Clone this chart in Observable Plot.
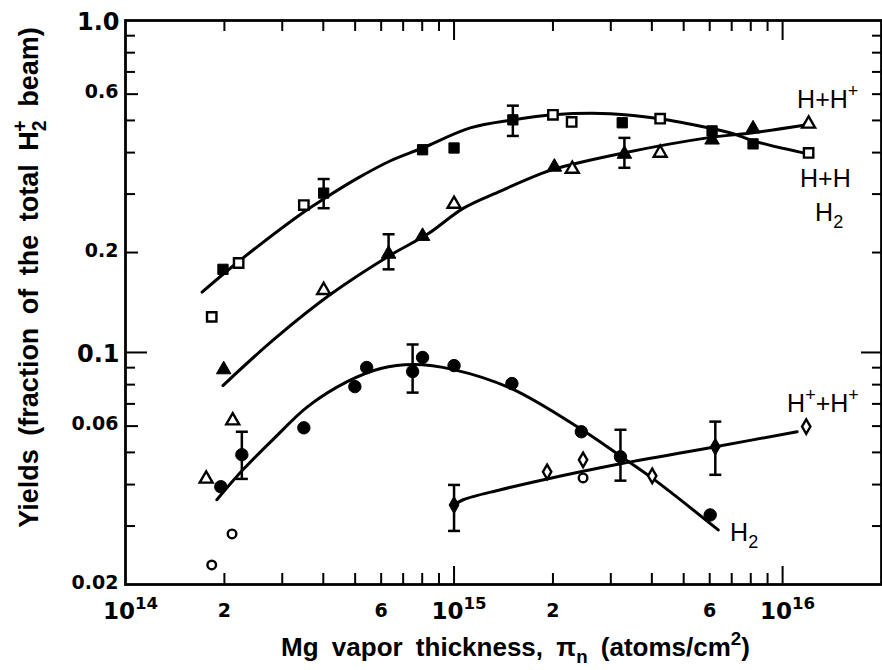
<!DOCTYPE html>
<html><head><meta charset="utf-8">
<script src="https://cdn.jsdelivr.net/npm/d3@7"></script>
<script src="https://cdn.jsdelivr.net/npm/@observablehq/plot@0.6"></script>
<style>body{margin:0;background:#fff}</style>
</head><body><div id="chart"></div>
<script>
// ---------- data (x: Mg thickness atoms/cm2, y: yield fraction) ----------
// H + H (squares)
const hhFilled = [[1.98e14,0.178],[4.01e14,0.302],[8.02e14,0.408],[1.0e15,0.413],[1.51e15,0.502],[3.25e15,0.492],[6.1e15,0.465],[8.13e15,0.425]];
const hhOpen = [[1.83e14,0.128],[2.21e14,0.186],[3.49e14,0.278],[2.0e15,0.52],[2.28e15,0.495],[4.24e15,0.506],[1.2e16,0.399]];
const hhErr = [[4.01e14,0.272,0.333],[1.51e15,0.449,0.554]];
const hhCurve = [[1.71e14,0.152],[2.21e14,0.188],[3.49e14,0.265],[4.01e14,0.29],[5.09e14,0.335],[6.41e14,0.378],[8.02e14,0.413],[1.12e15,0.475],[1.51e15,0.502],[2.0e15,0.52],[2.99e15,0.524],[4.24e15,0.506],[5.94e15,0.475],[7.07e15,0.456],[8.13e15,0.434],[1.2e16,0.396]];
// H + H+ (triangles)
const hhpFilled = [[1.99e14,0.0888],[6.32e14,0.198],[8.02e14,0.224],[2.02e15,0.362],[3.3e15,0.396],[6.1e15,0.437],[8.13e15,0.472]];
const hhpOpen = [[1.76e14,0.0416],[2.12e14,0.0623],[4.01e14,0.154],[1.0e15,0.28],[2.29e15,0.357],[4.24e15,0.399],[1.2e16,0.488]];
const hhpErr = [[6.32e14,0.178,0.227],[3.3e15,0.36,0.443]];
const hhpCurve = [[1.98e14,0.0795],[2.83e14,0.1095],[4.21e14,0.1497],[6.32e14,0.195],[8.31e14,0.2273],[1.069e15,0.2722],[1.385e15,0.3064],[1.832e15,0.3449],[2.02e15,0.357],[3.28e15,0.399],[5.9e15,0.443],[8.13e15,0.459],[1.19e16,0.485]];
// H2 (filled circles)
const h2Filled = [[1.95e14,0.0394],[2.26e14,0.0492],[3.49e14,0.0593],[4.99e14,0.0789],[5.42e14,0.0901],[7.48e14,0.0876],[8.02e14,0.0966],[1.0e15,0.0913],[1.5e15,0.0806],[2.44e15,0.0577],[3.21e15,0.0485],[6.02e15,0.0324]];
const h2Err = [[2.26e14,0.0416,0.0577],[7.48e14,0.0757,0.1057],[3.21e15,0.0411,0.0585]];
const h2Curve = [[1.897e14,0.036],[2.276e14,0.0443],[2.828e14,0.055],[3.586e14,0.0687],[4.746e14,0.0818],[5.98e14,0.0895],[7.53e14,0.092],[9.97e14,0.0888],[1.496e15,0.0778],[2.424e15,0.0589],[3.206e15,0.0488],[4.04e15,0.0416],[6.368e15,0.0292]];
// H+ + H+ (diamonds, open circles)
const hphpFilled = [[1.0e15,0.0347],[6.24e15,0.052]];
const hphpOpen = [[1.92e15,0.0437],[2.47e15,0.0475],[4.01e15,0.0425],[1.18e16,0.0598]];
const hphpCircles = [[1.83e14,0.0229],[2.11e14,0.0284],[2.47e15,0.0419]];
const hphpErr = [[1.0e15,0.029,0.0399],[6.24e15,0.0428,0.0619]];
const hphpCurve = [[1.0e15,0.0347],[1.066e15,0.036],[1.385e15,0.0386],[1.92e15,0.0416],[3.1e15,0.0459],[6.24e15,0.052],[1.107e16,0.0577]];

// curve labels (anchored at data coordinates; ^ = superscript, _ = subscript)
const curveLabelText = ["H+H^+","H+H","H_2","H^++H^+","H_2"];
const curveLabelX = [1.107e16,1.13e16,1.256e16,1.032e16,6.92e15];
const curveLabelY = [0.577,0.333,0.263,0.0701,0.0286];

// axes ticks & labels
const xMinorTicks = [2e14,3e14,4e14,5e14,6e14,7e14,8e14,9e14,2e15,3e15,4e15,5e15,6e15,7e15,8e15,9e15];
const xMajorTicks = [1e15,1e16];
const yMinorTicks = [0.03,0.04,0.05,0.07,0.08,0.09,0.3,0.4,0.5,0.7,0.8,0.9];
const yMidTicks = [0.06,0.2,0.6];
const yMajorTicks = [0.1];
const xLabelValues = [2e14,6e14,2e15,6e15];
const xLabelText = ["2","6","2","6"];
const xDecadeValues = [1e14,1e15,1e16];
const xDecadeText = ["10^{14}","10^{15}","10^{16}"];
const ySmallLabelValues = [0.6,0.2,0.06,0.02];
const ySmallLabelText = ["0.6","0.2","0.06","0.02"];
const yBigLabelValues = [1.0,0.1];
const yBigLabelText = ["1.0","0.1"];
const xTitle = "Mg vapor thickness, \u03C0_n (atoms/cm^2)";
const yTitle = "Yields (fraction of the total H_2^+ beam)";

// ---------- chart ----------
const W = 882, H = 670, mL = 125, mR = 1, mT = 20, mB = 86;
const plotW = W - mL - mR, plotH = H - mT - mB;
const pts = a => a.map(([x, y]) => ({x, y}));
const errs = a => a.map(([x, lo, hi]) => ({x, lo, hi}));
const capSymbol = {draw(ctx, size) { const r = Math.sqrt(size / Math.PI); ctx.moveTo(-r, 0); ctx.lineTo(r, 0); }};
const LW = 3;
const tickFont = "DejaVu Sans, sans-serif";
const titleFont = "Liberation Sans, Arial, sans-serif";

const lineMark = d => Plot.line(pts(d), {x: "x", y: "y", curve: "catmull-rom", stroke: "black", strokeWidth: LW});
const errMarks = d => [
  Plot.ruleX(errs(d), {x: "x", y1: "lo", y2: "hi", stroke: "black", strokeWidth: 2.5}),
  Plot.dot(errs(d), {x: "x", y: "lo", symbol: capSymbol, r: 6, stroke: "black", strokeWidth: 2.5}),
  Plot.dot(errs(d), {x: "x", y: "hi", symbol: capSymbol, r: 6, stroke: "black", strokeWidth: 2.5})
];
const filled = (d, symbol, r) => Plot.dot(pts(d), {x: "x", y: "y", symbol, r, fill: "black", stroke: "black", strokeWidth: 1});
const open = (d, symbol, r) => Plot.dot(pts(d), {x: "x", y: "y", symbol, r, fill: "white", stroke: "black", strokeWidth: 2.4});

const chart = Plot.plot({
  width: W, height: H,
  marginLeft: mL, marginRight: mR, marginTop: mT, marginBottom: mB,
  style: {background: "white", fontFamily: tickFont, color: "black"},
  x: {type: "log", domain: [1e14, 2e16], axis: null},
  y: {type: "log", domain: [0.02, 1], axis: null},
  marks: [
    // inward ticks
    Plot.ruleX(xMinorTicks, {x: d => d, insetTop: plotH - 11, stroke: "black", strokeWidth: 2}),
    Plot.ruleX(xMajorTicks, {x: d => d, insetTop: plotH - 18, stroke: "black", strokeWidth: 2}),
    Plot.ruleX(xMinorTicks, {x: d => d, insetBottom: plotH - 11, stroke: "black", strokeWidth: 2}),
    Plot.ruleX(xMajorTicks, {x: d => d, insetBottom: plotH - 20, stroke: "black", strokeWidth: 2}),
    Plot.ruleY(yMinorTicks, {y: d => d, insetRight: plotW - 10, stroke: "black", strokeWidth: 2}),
    Plot.ruleY(yMidTicks, {y: d => d, insetRight: plotW - 13, stroke: "black", strokeWidth: 2}),
    Plot.ruleY(yMajorTicks, {y: d => d, insetRight: plotW - 22, stroke: "black", strokeWidth: 2}),
    Plot.ruleY([...yMinorTicks, ...yMidTicks], {y: d => d, insetLeft: plotW - 9, stroke: "black", strokeWidth: 2}),
    Plot.ruleY(yMajorTicks, {y: d => d, insetLeft: plotW - 20, stroke: "black", strokeWidth: 2}),
    Plot.frame({stroke: "black", strokeWidth: 2.8}),
    // tick labels
    Plot.text(ySmallLabelValues, {y: d => d, text: (d, i) => ySmallLabelText[i], frameAnchor: "left", dx: -7, dy: -2, textAnchor: "end", lineAnchor: "middle", fontSize: 19, fontWeight: "bold"}),
    Plot.text(yBigLabelValues, {y: d => d, text: (d, i) => yBigLabelText[i], frameAnchor: "left", dx: -6, dy: 2, textAnchor: "end", lineAnchor: "middle", fontSize: 24, fontWeight: "bold"}),
    Plot.text(xLabelValues, {x: d => d, text: (d, i) => xLabelText[i], frameAnchor: "bottom", dy: 26, textAnchor: "middle", lineAnchor: "middle", fontSize: 19, fontWeight: "bold"}),
    Plot.text(xDecadeValues, {x: d => d, text: (d, i) => xDecadeText[i], frameAnchor: "bottom", dx: 5, dy: 27, textAnchor: "middle", lineAnchor: "middle", fontSize: 23, fontWeight: "bold"}),
    // titles
    Plot.text([xTitle], {text: d => d, frameAnchor: "bottom", dx: 12, dy: 63, textAnchor: "middle", lineAnchor: "middle", fontSize: 26, fontWeight: "bold", fontFamily: titleFont}),
    Plot.text([yTitle], {text: d => d, frameAnchor: "left", dx: -96, dy: -25, rotate: -90, textAnchor: "middle", lineAnchor: "middle", fontSize: 27, fontWeight: "bold", fontFamily: titleFont}),
    // fitted curves
    lineMark(hhCurve), lineMark(hhpCurve), lineMark(h2Curve), lineMark(hphpCurve),
    // error bars
    ...errMarks(hhErr), ...errMarks(hhpErr), ...errMarks(h2Err), ...errMarks(hphpErr),
    // data points
    filled(hhFilled, "square", 5.8),
    open(hhOpen, "square", 5.3),
    filled(hhpFilled, "triangle", 5.4),
    open(hhpOpen, "triangle", 4.8),
    filled(h2Filled, "circle", 6.2),
    filled(hphpFilled, "diamond", 5.2),
    open(hphpOpen, "diamond", 4.4),
    open(hphpCircles, "circle", 4.3),
    // curve labels
    Plot.text(curveLabelText, {x: (d, i) => curveLabelX[i], y: (d, i) => curveLabelY[i], text: d => d, textAnchor: "start", lineAnchor: "middle", fontSize: 25, fontFamily: titleFont})
  ]
});
document.getElementById("chart").appendChild(chart);

// render ^ / _ markup as real superscript / subscript tspans
function richText(el, s) {
  const fs = parseFloat(getComputedStyle(el).fontSize) || 16;
  const segs = [];
  const re = /([\^_])(\{[^}]*\}|.)/g;
  let last = 0, m;
  while ((m = re.exec(s))) {
    if (m.index > last) segs.push({str: s.slice(last, m.index), kind: "n"});
    const str = m[2].startsWith("{") ? m[2].slice(1, -1) : m[2];
    segs.push({str, kind: m[1] === "^" ? "sup" : "sub"});
    last = re.lastIndex;
  }
  if (last < s.length) segs.push({str: s.slice(last), kind: "n"});
  const t = d3.select(el);
  t.text("");
  let off = 0, prev = null;
  for (const seg of segs) {
    const shift = seg.kind === "sup" ? -0.42 * fs : seg.kind === "sub" ? 0.28 * fs : 0;
    const sp = t.append("tspan").text(seg.str);
    if (shift - off) sp.attr("dy", (shift - off).toFixed(2));
    if (seg.kind !== "n") sp.attr("font-size", (0.72 * fs).toFixed(1));
    if (seg.kind === "sup" && prev === "sub") sp.attr("dx", (-0.42 * fs).toFixed(2));
    off = shift; prev = seg.kind;
  }
}
d3.select(chart).selectAll("text").each(function () {
  const s = this.textContent;
  if (/[\^_]/.test(s)) richText(this, s);
  if (s === xTitle || s === yTitle) d3.select(this).style("word-spacing", "6px");
});
</script>
</body></html>
